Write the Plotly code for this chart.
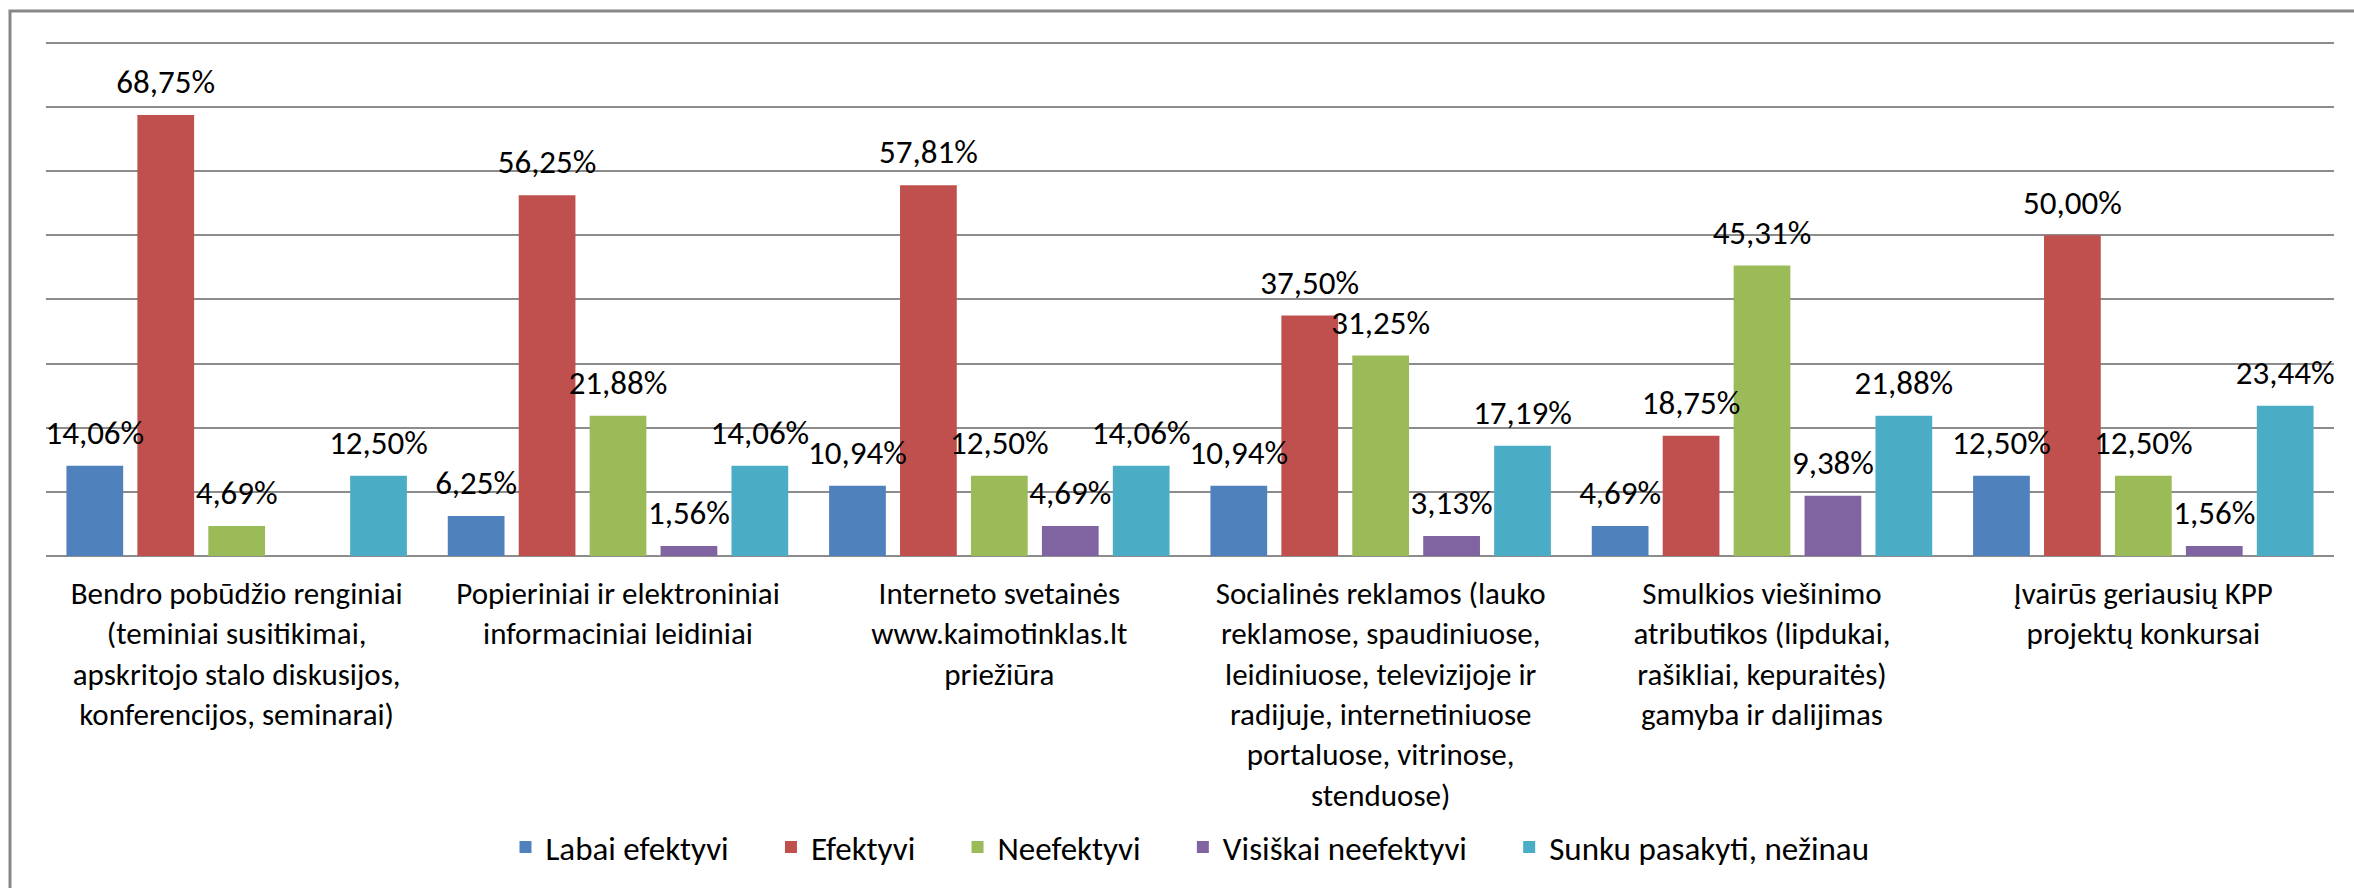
import plotly.graph_objects as go

# ---------------------------------------------------
# DATA
# ---------------------------------------------------

categories = [
    'Bendro pobūdžio renginiai<br>(teminiai susitikimai,<br>apskritojo stalo diskusijos,<br>konferencijos, seminarai)',
    'Popieriniai ir elektroniniai<br>informaciniai leidiniai',
    'Interneto svetainės<br>www.kaimotinklas.lt<br>priežiūra',
    'Socialinės reklamos (lauko<br>reklamose, spaudiniuose,<br>leidiniuose, televizijoje ir<br>radijuje, internetiniuose<br>portaluose, vitrinose,<br>stenduose)',
    'Smulkios viešinimo<br>atributikos (lipdukai,<br>rašikliai, kepuraitės)<br>gamyba ir dalijimas',
    'Įvairūs geriausių KPP<br>projektų konkursai',
]

series_names = [
    'Labai efektyvi',
    'Efektyvi',
    'Neefektyvi',
    'Visiškai neefektyvi',
    'Sunku pasakyti, nežinau',
]

labai_efektyvi = [14.06, 6.25, 10.94, 10.94, 4.69, 12.50]
efektyvi = [68.75, 56.25, 57.81, 37.50, 18.75, 50.00]
neefektyvi = [4.69, 21.88, 12.50, 31.25, 45.31, 12.50]
visiskai_neefektyvi = [None, 1.56, 4.69, 3.13, 9.38, 1.56]
sunku_pasakyti = [12.50, 14.06, 14.06, 17.19, 21.88, 23.44]

series_values = [
    labai_efektyvi,
    efektyvi,
    neefektyvi,
    visiskai_neefektyvi,
    sunku_pasakyti,
]

colors = ['#4F81BD', '#C0504D', '#9BBB59', '#8064A2', '#4BACC6']

# ---------------------------------------------------
# LAYOUT GEOMETRY (pixels)
# ---------------------------------------------------

W, H = 2354, 888
M_L, M_R, M_T, M_B = 46, 20, 41, 332
PW = W - M_L - M_R
PH = H - M_T - M_B

FONT = 'Carlito, Calibri, Lato, sans-serif'

# extra room after each legend entry, as in the Excel legend
LEGEND_PAD = '\u00a0' * 5

fig = go.Figure()

# ---------------------------------------------------
# BARS
# ---------------------------------------------------

for i, (name, vals, col) in enumerate(zip(series_names, series_values, colors)):
    pad = LEGEND_PAD if i < len(series_names) - 1 else ''
    fig.add_trace(
        go.Bar(
            x=categories,
            y=vals,
            name=name + pad,
            marker=dict(color=col, line=dict(width=0)),
        )
    )

# ---------------------------------------------------
# DATA LABELS (grouped scatter text above bars)
# ---------------------------------------------------

for name, vals in zip(series_names, series_values):
    fig.add_trace(
        go.Scatter(
            x=categories,
            y=vals,
            mode='markers+text',
            text=[None if v is None else f'{v:.2f}%'.replace('.', ',') for v in vals],
            textposition='top center',
            textfont=dict(family=FONT, size=33, color='#000000'),
            marker=dict(size=20, opacity=0),
            showlegend=False,
            hoverinfo='skip',
            cliponaxis=False,
        )
    )

# ---------------------------------------------------
# UPDATE LAYOUT
# ---------------------------------------------------

fig.update_layout(
    width=W,
    height=H,
    barmode='group',
    scattermode='group',
    bargap=0.07,
    bargroupgap=0.2,
    margin=dict(l=M_L, r=M_R, t=M_T, b=M_B),
    plot_bgcolor='white',
    paper_bgcolor='white',
    font=dict(family=FONT, size=31, color='#000000'),
    legend=dict(
        orientation='h',
        x=0.5,
        xanchor='center',
        y=-(847 - (M_T + PH)) / PH,
        yanchor='middle',
        font=dict(family=FONT, size=33, color='#000000'),
        itemwidth=30,
        traceorder='normal',
    ),
    shapes=[
        dict(
            type='rect',
            xref='paper',
            yref='paper',
            x0=(10 - M_L) / PW,
            x1=(W + 20 - M_L) / PW,
            y0=-(H + 20 - M_T - PH) / PH,
            y1=(M_T + PH - 11) / PH,
            line=dict(color='#878787', width=3),
            layer='below',
        )
    ],
)

# ---------------------------------------------------
# AXES
# ---------------------------------------------------

fig.update_xaxes(
    showgrid=False,
    showline=False,
    ticks='',
    ticklabelstandoff=16,
    tickfont=dict(family=FONT, size=31, color='#000000'),
)

fig.update_yaxes(
    range=[0, 80.3],
    tickvals=[0, 10, 20, 30, 40, 50, 60, 70, 80],
    showticklabels=False,
    showgrid=True,
    gridcolor='#8c8c8c',
    gridwidth=2,
    zeroline=True,
    zerolinecolor='#8c8c8c',
    zerolinewidth=2,
    ticks='',
)

fig.write_html(
    'out.html',
    config={'displayModeBar': False},
    post_script="document.body.style.margin='0';",
)
